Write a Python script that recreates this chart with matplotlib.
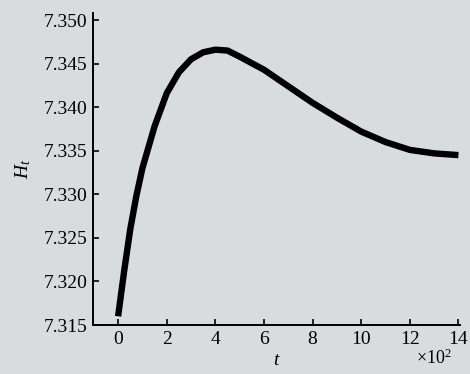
import numpy as np
import matplotlib.pyplot as plt

t = [0, 0.25, 0.5, 0.75, 1, 1.5, 2, 2.5, 3, 3.5, 4, 4.5, 5, 6, 7, 8, 9, 10, 11, 12, 13, 14]
H = [7.3160, 7.3212, 7.3260, 7.3298, 7.3330, 7.3378, 7.3416, 7.3440, 7.3455, 7.3463,
     7.3466, 7.3465, 7.3458, 7.3443, 7.3424, 7.3405, 7.3388, 7.3372, 7.3360, 7.3351,
     7.3347, 7.3345]
xticks = [0, 2, 4, 6, 8, 10, 12, 14]
yticks = [7.315, 7.320, 7.325, 7.330, 7.335, 7.340, 7.345, 7.350]

plt.rcParams['font.family'] = ['Liberation Serif', 'DejaVu Serif']
plt.rcParams['mathtext.fontset'] = 'custom'
plt.rcParams['mathtext.rm'] = 'Liberation Serif'
plt.rcParams['mathtext.it'] = 'Liberation Serif:italic'
bg = '#d8dcdf'

fig = plt.figure(figsize=(4.7, 3.74), dpi=100, facecolor=bg)
ax = fig.add_axes([0.198, 0.131, 0.781, 0.834], facecolor=bg)

ax.plot(t, H, color='black', lw=4.6, solid_capstyle='butt')

ax.set_xlim(-1.03, 14.07)
ax.set_ylim(7.315, 7.3508)
ax.set_xticks(xticks)
ax.set_yticks(yticks)
ax.set_yticklabels(['%.3f' % v for v in yticks])
ax.tick_params(direction='in', length=4, width=1.2, labelsize=14, pad=4)
for s in ['top', 'right']:
    ax.spines[s].set_visible(False)
for s in ['left', 'bottom']:
    ax.spines[s].set_linewidth(1.4)

ax.set_xlabel('$t$', fontsize=14, labelpad=3)
ax.set_ylabel('$H_t$', fontsize=14, labelpad=8)
fig.text(0.923, 0.027, '×10$^2$', fontsize=13, ha='center', va='baseline')

fig.savefig('out.png', dpi=100, facecolor=bg)
